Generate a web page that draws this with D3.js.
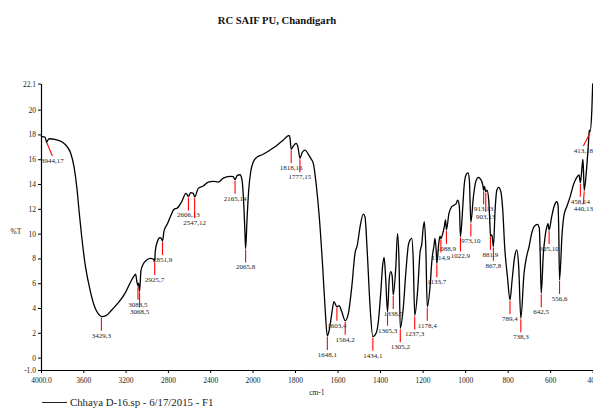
<!DOCTYPE html>
<html>
<head>
<meta charset="utf-8">
<script src="https://cdn.jsdelivr.net/npm/d3@7"></script>
<style>
  body { margin: 0; background: #fff; }
  svg { display: block; font-family: "Liberation Serif", "Times New Roman", serif; }
</style>
</head>
<body>
<svg id="chart"></svg>
<script>
// ------ données ------
// spectre : nombre d'onde (cm-1) et %T
const wavenumbers = [4000, 3980, 3962, 3946, 3935, 3921, 3868, 3804, 3757, 3719, 3688, 3662, 3638, 3615, 3584, 3543, 3499, 3458, 3429, 3385, 3331, 3269, 3206, 3152, 3121, 3105, 3093, 3083, 3077, 3068, 3055, 3033, 3001, 2963, 2940, 2925, 2919, 2900, 2875, 2862, 2851, 2837, 2806, 2774, 2742, 2711, 2670, 2629, 2606, 2584, 2560, 2547, 2513, 2466, 2419, 2371, 2324, 2276, 2213, 2182, 2165, 2144, 2118, 2099, 2080, 2070, 2065, 2052, 2036, 2017, 1996, 1980, 1957, 1926, 1894, 1871, 1855, 1839, 1828, 1824, 1818, 1808, 1795, 1786, 1777, 1767, 1753, 1738, 1726, 1714, 1701, 1686, 1670, 1659, 1648, 1639, 1627, 1617, 1603, 1593, 1580, 1564, 1549, 1533, 1518, 1507, 1494, 1479, 1471, 1460, 1447, 1434, 1419, 1409, 1397, 1388, 1381, 1374, 1365, 1357, 1350, 1343, 1338, 1326, 1318, 1311, 1305, 1291, 1278, 1267, 1259, 1251, 1244, 1237, 1223, 1212, 1203, 1199, 1192, 1185, 1178, 1165, 1156, 1146, 1142, 1136, 1133, 1124, 1118, 1114, 1105, 1098, 1092, 1088, 1076, 1063, 1052, 1043, 1035, 1027, 1022, 1011, 1005, 996, 986, 980, 973, 961, 950, 938, 927, 917, 913, 909, 903, 897, 889, 883, 881, 874, 867, 859, 851, 842, 832, 823, 814, 801, 789, 779, 767, 757, 748, 738, 723, 711, 700, 687, 674, 660, 651, 647, 642, 632, 624, 613, 610, 605, 593, 582, 569, 563, 560, 556, 544, 535, 522, 506, 491, 475, 464, 461, 458, 450, 446, 443, 440, 428, 420, 416, 413, 404, 400]
const transmittance = [17.87, 17.8, 17.79, 17.35, 17.55, 17.65, 17.6, 17.41, 17.06, 16.48, 15.4, 13.78, 11.64, 9.75, 7.6, 5.72, 4.24, 3.52, 3.3, 3.38, 3.84, 4.43, 5.18, 6.12, 6.58, 6.74, 6.1, 5.8, 6.0, 5.35, 7.0, 7.55, 7.87, 8.0, 7.95, 7.8, 8.6, 9.35, 9.67, 9.6, 9.4, 10.2, 10.77, 11.42, 11.96, 12.06, 12.57, 13.25, 13.0, 13.3, 13.25, 12.95, 13.65, 13.84, 14.16, 14.22, 14.16, 14.48, 14.62, 14.59, 14.35, 14.7, 14.75, 14.32, 11.9, 9.75, 8.8, 11.1, 13.5, 14.99, 15.8, 16.15, 16.34, 16.64, 17.0, 17.33, 17.55, 17.81, 17.93, 17.77, 16.8, 17.06, 17.28, 16.96, 16.07, 16.52, 16.74, 16.42, 16.07, 15.67, 14.06, 11.36, 7.33, 4.1, 1.74, 2.23, 3.57, 4.51, 4.1, 4.19, 3.7, 2.98, 3.57, 5.72, 8.41, 9.08, 10.56, 11.58, 11.36, 8.41, 4.1, 1.69, 1.96, 2.77, 5.19, 7.4, 8.09, 6.5, 3.7, 6.3, 6.93, 6.58, 5.05, 7.3, 10.0, 7.87, 2.36, 4.0, 7.06, 9.08, 9.48, 9.62, 7.87, 3.4, 5.5, 8.5, 9.27, 10.15, 10.96, 8.9, 4.1, 5.72, 7.87, 9.08, 9.62, 8.6, 7.6, 9.22, 9.8, 9.6, 10.02, 10.56, 11.1, 10.3, 11.64, 12.17, 12.3, 12.4, 12.7, 12.17, 9.75, 12.17, 13.78, 14.73, 14.9, 14.3, 10.9, 12.98, 14.19, 14.54, 14.38, 13.92, 13.5, 13.8, 13.38, 13.5, 12.7, 10.6, 9.8, 9.9, 8.94, 11.9, 13.5, 13.73, 13.38, 11.9, 8.94, 6.52, 4.65, 6.26, 8.14, 8.68, 7.33, 3.17, 6.8, 8.14, 8.9, 10.02, 10.6, 10.75, 10.43, 8.41, 5.19, 8.4, 9.75, 10.69, 10.8, 10.29, 11.36, 12.17, 12.57, 12.3, 10.56, 6.26, 10.0, 11.5, 12.17, 12.98, 13.92, 14.54, 14.73, 14.4, 14.1, 15.4, 15.99, 14.9, 13.5, 15.4, 17.28, 18.35, 18.2, 19.97, 22.1]

// pics annotés (nombre d'onde, %T affiché)
const peakWn = [3944, 3429, 3083, 3068, 2925, 2851, 2606, 2547, 2165, 2065, 1818, 1777, 1648, 1603, 1564, 1434, 1365, 1338, 1305, 1237, 1178, 1133, 1114, 1088, 1022, 973, 913, 903, 881, 867, 789, 738, 642, 605, 556, 458, 440, 413]
const peakT = [17, 3, 5, 5, 7, 9, 13, 12, 14, 8, 16, 15, 1, 4, 2, 1, 3, 5, 2, 3, 4, 7, 9, 9, 9, 10, 13, 13, 9, 8, 4, 3, 5, 10, 6, 14, 13, 18]

// graduations
const xTicks = [4000, 3600, 3200, 2800, 2400, 2000, 1800, 1600, 1400, 1200, 1000, 800, 600, 400]
const xTickLabels = ["4000.0", "3600", "3200", "2800", "2400", "2000", "1800", "1600", "1400", "1200", "1000", "800", "600", "400"]
const yTicks = [-1, 0, 2, 4, 6, 8, 10, 12, 14, 16, 18, 20, 22.1]
const yTickLabels = ["-1.0", "0", "2", "4", "6", "8", "10", "12", "14", "16", "18", "20", "22.1"]

const title = "RC SAIF PU, Chandigarh"
const legendLabel = "Chhaya D-16.sp - 6/17/2015 - F1"

// ------ rendu ------
var width = 593,
    height = 416

var svg = d3.select("#chart")
    .attr("width", width)
    .attr("height", height)

var plotLeft = 41, plotRight = 592.7, plotTop = 83.6, plotBottom = 370

// échelle x en deux parties (4000-2000 compressé)
var x = d3.scaleLinear()
    .domain([4000, 2000, 400])
    .range([plotLeft, 252.5, plotRight])

var y = d3.scaleLinear()
    .domain([-1, 22.1])
    .range([plotBottom, plotTop])

// titre
svg.append("text")
    .attr("x", 277)
    .attr("y", 24)
    .attr("text-anchor", "middle")
    .attr("font-weight", "bold")
    .attr("font-size", "10.6px")
    .attr("fill", "#111")
    .text(title)

// axes
var xAxis = svg.append("g")
    .attr("transform", `translate(0,${plotBottom})`)
    .call(d3.axisBottom(x).tickValues(xTicks).tickSize(3).tickSizeOuter(0)
        .tickFormat((d, i) => xTickLabels[i]))

var yAxis = svg.append("g")
    .attr("transform", `translate(${plotLeft},0)`)
    .call(d3.axisLeft(y).tickValues(yTicks).tickSize(3).tickSizeOuter(0)
        .tickFormat((d, i) => yTickLabels[i]))

svg.selectAll(".domain").attr("stroke", "#000").attr("stroke-width", 1.2)
svg.selectAll(".tick line").attr("stroke", "#000")
svg.selectAll(".tick text")
    .attr("font-family", "Liberation Serif, serif")
    .attr("font-size", "7.5px")
    .attr("fill", "#222")
xAxis.selectAll(".tick text").attr("dy", "0.9em")
yAxis.selectAll(".tick text").attr("x", -5)

// titres d'axes
svg.append("text")
    .attr("x", (plotLeft + plotRight) / 2)
    .attr("y", 395)
    .attr("text-anchor", "middle")
    .attr("font-size", "7.5px")
    .attr("fill", "#222")
    .text("cm-1")

svg.append("text")
    .attr("x", 16)
    .attr("y", 234)
    .attr("text-anchor", "middle")
    .attr("font-size", "7.5px")
    .attr("fill", "#222")
    .text("%T")

// courbe
var spectrum = wavenumbers.map((w, i) => ({ w: w, t: transmittance[i] }))

var line = d3.line()
    .x(d => x(d.w))
    .y(d => y(d.t))
    .curve(d3.curveMonotoneX)

svg.append("path")
    .datum(spectrum)
    .attr("fill", "none")
    .attr("stroke", "#000")
    .attr("stroke-width", 1.3)
    .attr("stroke-linejoin", "round")
    .attr("d", line)

// valeur de la courbe à un nombre d'onde
function curveAt(w) {
    for (let i = 0; i < spectrum.length - 1; i++) {
        let a = spectrum[i], b = spectrum[i + 1]
        if (w <= a.w && w >= b.w) {
            return a.t + (b.t - a.t) * (a.w - w) / (a.w - b.w)
        }
    }
    return spectrum[spectrum.length - 1].t
}

// annotations des pics
var placed = []
var peaks = svg.append("g")
peakWn.forEach((w, i) => {
    let px = x(w)
    let py = y(curveAt(w)) + 1
    let label = peaks.append("text")
        .attr("font-size", "7px")
        .attr("fill", "#222")
        .attr("text-anchor", "middle")
        .text(w + "," + peakT[i])
    let tw = label.node().getComputedTextLength()
    let tx = Math.max(plotLeft + tw / 2, Math.min(width - tw / 2, px))
    let ty = py + 20
    // décaler vers le bas si chevauchement
    let moved = true
    while (moved) {
        moved = false
        placed.forEach(p => {
            if (Math.abs(p.x - tx) < (p.w + tw) / 2 && Math.abs(p.y - ty) < 7) {
                ty = p.y + 7.5
                moved = true
            }
        })
    }
    placed.push({ x: tx, y: ty, w: tw })
    label.attr("x", tx).attr("y", ty)
    peaks.append("line")
        .attr("x1", px).attr("y1", py)
        .attr("x2", tx).attr("y2", ty - 7)
        .attr("stroke", "#ff0000")
        .attr("stroke-width", 1.1)
})

// légende
svg.append("line")
    .attr("x1", 42).attr("x2", 67)
    .attr("y1", 402.5).attr("y2", 402.5)
    .attr("stroke", "#222")
    .attr("stroke-width", 1)

svg.append("text")
    .attr("x", 70)
    .attr("y", 406)
    .attr("font-size", "10.8px")
    .attr("fill", "#222")
    .text(legendLabel)
</script>
</body>
</html>
